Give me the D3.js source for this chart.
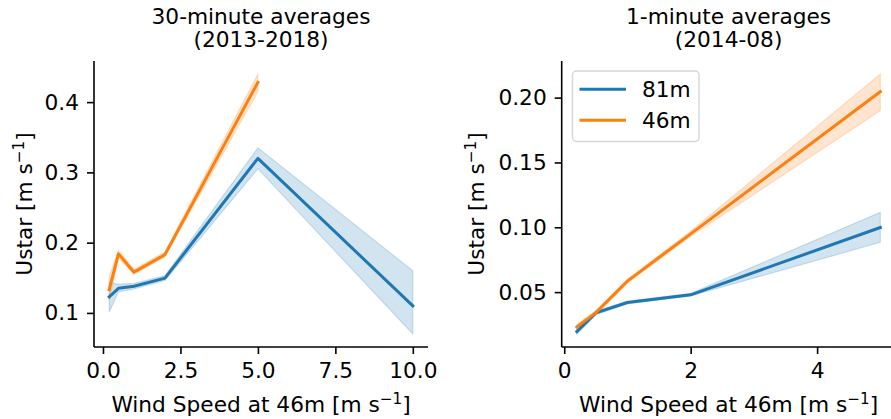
<!DOCTYPE html>
<html>
<head>
<meta charset="utf-8">
<script src="https://cdn.jsdelivr.net/npm/d3@7/dist/d3.min.js"></script>
<style>
  html, body { margin: 0; padding: 0; background: #fff; }
  svg { display: block; font-family: "DejaVu Sans", sans-serif; }
</style>
</head>
<body>
<svg id="chart" width="891" height="419"></svg>
<script>
// 30-minute averages (2013-2018)
const wind30 = [0.2, 0.5, 1, 2, 5, 10];
const ustar30_81 = [0.123, 0.135, 0.138, 0.1495, 0.320, 0.110];
const ustar30_81_lo = [0.101, 0.130, 0.134, 0.146, 0.305, 0.070];
const ustar30_81_hi = [0.143, 0.141, 0.142, 0.153, 0.335, 0.160];
const wind30_46 = [0.2, 0.5, 1, 2, 5];
const ustar30_46 = [0.133, 0.184, 0.158, 0.183, 0.428];
const ustar30_46_lo = [0.118, 0.178, 0.155, 0.180, 0.415];
const ustar30_46_hi = [0.152, 0.189, 0.162, 0.187, 0.440];

// 1-minute averages (2014-08)
const wind1 = [0.2, 0.5, 1, 2, 5];
const ustar1_81 = [0.0196, 0.0340, 0.0420, 0.0479, 0.0998];
const ustar1_81_lo = [0.0177, 0.0325, 0.0410, 0.0470, 0.0884];
const ustar1_81_hi = [0.0215, 0.0355, 0.0430, 0.0490, 0.1115];
const ustar1_46 = [0.0231, 0.0342, 0.0585, 0.0949, 0.2046];
const ustar1_46_lo = [0.0212, 0.0327, 0.0570, 0.0930, 0.1900];
const ustar1_46_hi = [0.0250, 0.0357, 0.0600, 0.0970, 0.2182];

const ticks30X = [0, 2.5, 5, 7.5, 10];
const ticks30Y = [0.1, 0.2, 0.3, 0.4];
const ticks1X = [0, 2, 4];
const ticks1Y = [0.05, 0.10, 0.15, 0.20];

const seriesNames = ["81m", "46m"];
const colors = ["#1f77b4", "#ff7f0e"];

const FS = 21.7;
const svg = d3.select("#chart");

// matplotlib-style 5% autoscale margins
function padExtent(vals) {
  const [a, b] = d3.extent(vals);
  const p = (b - a) * 0.05;
  return [a - p, b + p];
}

function addSup(sel, base) {
  sel.text(null);
  sel.append("tspan").text(base);
  sel.append("tspan").attr("font-size", FS * 0.7).attr("dy", -FS * 0.38).text("\u22121");
  sel.append("tspan").attr("dy", FS * 0.38).text("]");
}

function panel(opts) {
  const { left, right, top, bottom } = opts;
  const g = svg.append("g");
  const x = d3.scaleLinear().domain(padExtent(opts.xAll)).range([left, right]);
  const y = d3.scaleLinear().domain(padExtent(opts.yAll)).range([bottom, top]);

  const area = d3.area().x(d => x(d.x)).y0(d => y(d.lo)).y1(d => y(d.hi));
  const line = d3.line().x(d => x(d.x)).y(d => y(d.y));

  opts.series.forEach((s, i) => {
    const pts = s.x.map((xv, k) => ({ x: xv, y: s.y[k], lo: s.lo[k], hi: s.hi[k] }));
    g.append("path").datum(pts).attr("d", area)
      .attr("fill", colors[i]).attr("fill-opacity", 0.2)
      .attr("stroke", colors[i]).attr("stroke-opacity", 0.2).attr("stroke-width", 1.2);
  });
  opts.series.forEach((s, i) => {
    const pts = s.x.map((xv, k) => ({ x: xv, y: s.y[k] }));
    g.append("path").datum(pts).attr("d", line)
      .attr("fill", "none").attr("stroke", colors[i]).attr("stroke-width", 3)
      .attr("stroke-linecap", "square").attr("stroke-linejoin", "round");
  });

  // axes
  const xAxis = d3.axisBottom(x).tickValues(opts.xTicks).tickFormat(d3.format(opts.xFmt))
    .tickSizeInner(7).tickSizeOuter(0).tickPadding(9);
  const yAxis = d3.axisLeft(y).tickValues(opts.yTicks).tickFormat(d3.format(opts.yFmt))
    .tickSizeInner(7).tickSizeOuter(0).tickPadding(8);

  const gx = g.append("g").attr("transform", `translate(0,${bottom})`).call(xAxis);
  const gy = g.append("g").attr("transform", `translate(${left},0)`).call(yAxis);
  [gx, gy].forEach(a => {
    a.select(".domain").attr("stroke", "#000").attr("stroke-width", 1.6);
    a.selectAll(".tick line").attr("stroke", "#000").attr("stroke-width", 1.6);
    a.selectAll(".tick text").attr("fill", "#000").attr("font-size", FS)
      .attr("font-family", "DejaVu Sans");
  });
  gx.select(".domain").attr("d", `M${left},0H${right}`);
  gy.select(".domain").attr("d", `M0,${top}V${bottom}`);

  // titles
  const cx = (left + right) / 2;
  opts.title.forEach((t, k) => {
    g.append("text").attr("x", cx).attr("y", 24 + k * 23).attr("text-anchor", "middle")
      .attr("font-size", FS).attr("fill", "#000").text(t);
  });

  g.append("text").attr("x", cx).attr("y", 412).attr("text-anchor", "middle")
    .attr("font-size", FS).attr("fill", "#000").call(addSup, "Wind Speed at 46m [m s");

  g.append("text").attr("transform", `translate(${opts.ylabelX},${(top + bottom) / 2}) rotate(-90)`)
    .attr("text-anchor", "middle").attr("font-size", FS).attr("fill", "#000")
    .call(addSup, "Ustar [m s");

  return { g, x, y };
}

panel({
  left: 94, right: 428, top: 61, bottom: 347,
  xAll: wind30,
  yAll: ustar30_81_lo.concat(ustar30_81_hi, ustar30_46_lo, ustar30_46_hi),
  series: [
    { x: wind30, y: ustar30_81, lo: ustar30_81_lo, hi: ustar30_81_hi },
    { x: wind30_46, y: ustar30_46, lo: ustar30_46_lo, hi: ustar30_46_hi }
  ],
  xTicks: ticks30X, yTicks: ticks30Y, xFmt: ".1f", yFmt: ".1f",
  title: ["30-minute averages", "(2013-2018)"],
  ylabelX: 32
});

const p2 = panel({
  left: 561.7, right: 895.5, top: 61, bottom: 347,
  xAll: wind1,
  yAll: ustar1_81_lo.concat(ustar1_81_hi, ustar1_46_lo, ustar1_46_hi),
  series: [
    { x: wind1, y: ustar1_81, lo: ustar1_81_lo, hi: ustar1_81_hi },
    { x: wind1, y: ustar1_46, lo: ustar1_46_lo, hi: ustar1_46_hi }
  ],
  xTicks: ticks1X, yTicks: ticks1Y, xFmt: "d", yFmt: ".2f",
  title: ["1-minute averages", "(2014-08)"],
  ylabelX: 484
});

// legend
const lg = svg.append("g").attr("transform", "translate(572.5,71)");
lg.append("rect").attr("width", 126.5).attr("height", 70.5).attr("rx", 4)
  .attr("fill", "#fff").attr("fill-opacity", 0.8).attr("stroke", "#d6d6d6").attr("stroke-width", 1.4);
seriesNames.forEach((name, i) => {
  const yy = 18.3 + i * 31;
  lg.append("line").attr("x1", 7).attr("x2", 53.5).attr("y1", yy).attr("y2", yy)
    .attr("stroke", colors[i]).attr("stroke-width", 3);
  lg.append("text").attr("x", 69.5).attr("y", yy + 7.6).attr("font-size", FS)
    .attr("fill", "#000").text(name);
});
</script>
</body>
</html>
